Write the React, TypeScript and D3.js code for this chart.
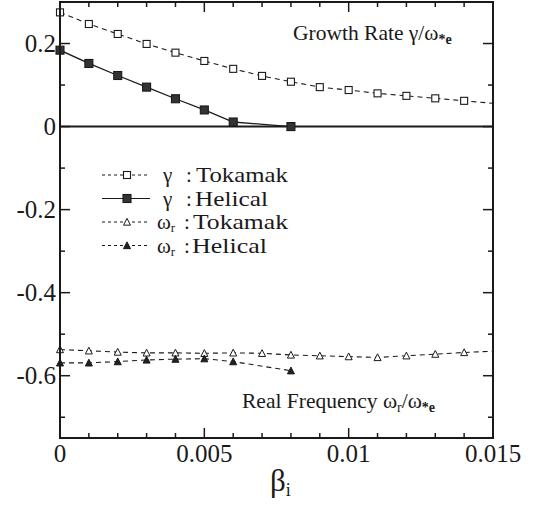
import React from "react";
import * as d3 from "d3";

const W = 534;
const H = 506;

const betaFull = [0, 0.001, 0.002, 0.003, 0.004, 0.005, 0.006, 0.007, 0.008, 0.009, 0.01, 0.011, 0.012, 0.013, 0.014, 0.015];
const gammaTokamak = [0.275, 0.247, 0.223, 0.199, 0.178, 0.158, 0.139, 0.122, 0.108, 0.095, 0.088, 0.08, 0.074, 0.068, 0.062, 0.056];
const omegaTokamak = [-0.537, -0.54, -0.543, -0.545, -0.545, -0.546, -0.545, -0.546, -0.55, -0.552, -0.554, -0.556, -0.552, -0.548, -0.544, -0.541];

const betaHelical = [0, 0.001, 0.002, 0.003, 0.004, 0.005, 0.006, 0.008];
const gammaHelical = [0.184, 0.152, 0.123, 0.095, 0.067, 0.04, 0.011, 0.0];
const omegaHelical = [-0.569, -0.569, -0.566, -0.562, -0.56, -0.559, -0.566, -0.588];

const xMajor = [0, 0.005, 0.01, 0.015];
const xMajorLabels = ["0", "0.005", "0.01", "0.015"];
const yMajor = [0.2, 0, -0.2, -0.4, -0.6];
const yMajorLabels = ["0.2", "0", "-0.2", "-0.4", "-0.6"];
const xMinor = d3.range(0, 16).map((i) => i * 0.001);
const yMinor = [0.3, 0.1, -0.1, -0.3, -0.5, -0.7];

const legendSymbols = ["γ", "γ", "ω", "ω"];
const legendSubs = ["", "", "r", "r"];
const legendLabels = ["Tokamak", "Helical", "Tokamak", "Helical"];

const FONT = "'Liberation Serif', 'Times New Roman', Times, serif";
const INK = "#1a1a1a";

export default function App() {
  const x = d3.scaleLinear().domain([0, 0.015]).range([60, 493]);
  const y = d3.scaleLinear().domain([-0.75, 0.3]).range([438, 2]);
  const [x0, x1] = x.range();
  const [y0, y1] = y.range();

  const line = d3
    .line<[number, number]>()
    .x((d) => x(d[0]))
    .y((d) => y(d[1]));

  const zip = (a: number[], b: number[]) => a.map((v, i) => [v, b[i]] as [number, number]);
  const gT = zip(betaFull, gammaTokamak);
  const oT = zip(betaFull, omegaTokamak);
  const gH = zip(betaHelical, gammaHelical);
  const oH = zip(betaHelical, omegaHelical);

  const sq = (cx: number, cy: number, filled: boolean, s = 7, key?: any) => (
    <rect key={key} x={cx - s / 2} y={cy - s / 2} width={s} height={s}
      fill={filled ? "#333" : "#fff"} stroke={INK} strokeWidth={1.1} />
  );
  const tri = (cx: number, cy: number, filled: boolean, s = 7, key?: any) => {
    const h = s * 0.9;
    const p = `${cx},${cy - h / 2 - 0.5} ${cx - s / 2},${cy + h / 2} ${cx + s / 2},${cy + h / 2}`;
    return <polygon key={key} points={p} fill={filled ? "#222" : "#fff"} stroke={INK} strokeWidth={1} />;
  };

  const dash = "5,4";
  const legStyle = [
    { y: 175, marker: "sq", filled: false, dashed: true, symX: 163, colonX: 186, labX: 196, len: 92 },
    { y: 198.5, marker: "sq", filled: true, dashed: false, symX: 163, colonX: 186, labX: 195, len: 73 },
    { y: 222, marker: "tri", filled: false, dashed: true, symX: 157, colonX: 184, labX: 193, len: 95 },
    { y: 245.5, marker: "tri", filled: true, dashed: true, symX: 157, colonX: 184, labX: 192, len: 75 },
  ];

  const txt = { fontFamily: FONT } as React.CSSProperties;

  return (
    <svg width={W} height={H} style={{ position: "absolute", left: 0, top: 0, background: "#fff", fontFamily: FONT }}>
      <rect x={0} y={0} width={W} height={H} fill="#fff" />
      <defs>
        <clipPath id="plot">
          <rect x={x0} y={y1} width={x1 - x0} height={y0 - y1} />
        </clipPath>
      </defs>

      {/* zero line */}
      <line x1={x0} x2={x1} y1={y(0)} y2={y(0)} stroke={INK} strokeWidth={2} />

      {/* series lines */}
      <g clipPath="url(#plot)" fill="none" stroke={INK}>
        <path d={line(gT) || ""} strokeWidth={1.1} strokeDasharray={dash} />
        <path d={line(gH) || ""} strokeWidth={1.3} />
        <path d={line(oT) || ""} strokeWidth={1.1} strokeDasharray={dash} />
        <path d={line(oH) || ""} strokeWidth={1.1} strokeDasharray={dash} />
      </g>

      {/* markers */}
      <g>
        {gT.filter((d) => d[0] < 0.015).map((d, i) => sq(x(d[0]), y(d[1]), false, 7, "gt" + i))}
        {gH.map((d, i) => sq(x(d[0]), y(d[1]), true, 8, "gh" + i))}
        {oT.filter((d) => d[0] < 0.015).map((d, i) => tri(x(d[0]), y(d[1]), false, 7, "ot" + i))}
        {oH.map((d, i) => tri(x(d[0]), y(d[1]), true, 7, "oh" + i))}
      </g>

      {/* frame */}
      <rect x={x0} y={y1} width={x1 - x0} height={y0 - y1} fill="none" stroke={INK} strokeWidth={2} />

      {/* ticks */}
      <g stroke={INK} strokeWidth={1.5}>
        {xMinor.map((v, i) => {
          const major = xMajor.some((m) => Math.abs(m - v) < 1e-9);
          const L = major ? 10 : 5;
          return (
            <g key={"xt" + i}>
              <line x1={x(v)} x2={x(v)} y1={y0} y2={y0 - L} />
              <line x1={x(v)} x2={x(v)} y1={y1} y2={y1 + L} />
            </g>
          );
        })}
        {yMajor.map((v, i) => (
          <g key={"ytM" + i}>
            <line x1={x0} x2={x0 + 10} y1={y(v)} y2={y(v)} />
            <line x1={x1} x2={x1 - 10} y1={y(v)} y2={y(v)} />
          </g>
        ))}
        {yMinor.map((v, i) => (
          <g key={"ytm" + i}>
            <line x1={x0} x2={x0 + 5} y1={y(v)} y2={y(v)} />
            <line x1={x1} x2={x1 - 5} y1={y(v)} y2={y(v)} />
          </g>
        ))}
      </g>

      {/* tick labels */}
      <g fill={INK}>
        {yMajor.map((v, i) => (
          <text key={"yl" + i} x={56} y={y(v)} dy="0.34em" textAnchor="end" fontSize={25} style={txt}>{yMajorLabels[i]}</text>
        ))}
        {xMajor.map((v, i) => (
          <text key={"xl" + i} x={x(v)} y={462} textAnchor="middle" fontSize={25} style={txt}>{xMajorLabels[i]}</text>
        ))}
      </g>

      {/* x title */}
      <text x={270} y={491} fontSize={31} fill={INK} style={txt}>
        β<tspan fontSize={18} dy={5}>i</tspan>
      </text>

      {/* annotations */}
      <text x={293} y={40} fontSize={21.5} fill={INK} style={txt}>
        Growth Rate γ/ω<tspan fontSize={14} dy={4} fontWeight="bold">*e</tspan>
      </text>
      <text x={242} y={408} fontSize={21.5} fill={INK} style={txt}>
        Real Frequency ω<tspan fontSize={14} dy={4}>r</tspan><tspan dy={-4}>/ω</tspan><tspan fontSize={14} dy={4} fontWeight="bold">*e</tspan>
      </text>

      {/* legend */}
      {legStyle.map((r, i) => (
        <g key={"leg" + i}>
          <line x1={102} x2={150} y1={r.y} y2={r.y} stroke={INK} strokeWidth={1.1}
            strokeDasharray={r.dashed ? "3,3" : undefined} />
          {r.marker === "sq" ? sq(127, r.y, r.filled, r.filled ? 8 : 7) : tri(127, r.y, r.filled, 7)}
          <text y={r.y + 7} fontSize={21} fill={INK} style={txt}>
            <tspan x={r.symX}>{legendSymbols[i]}</tspan>
            {legendSubs[i] ? <tspan fontSize={13} dy={3}>{legendSubs[i]}</tspan> : null}
          </text>
          <text x={r.colonX} y={r.y + 7} fontSize={21} fill={INK} style={txt}>:</text>
          <text x={r.labX} y={r.y + 7} fontSize={21} fill={INK} style={txt}
            textLength={r.len} lengthAdjust="spacingAndGlyphs">{legendLabels[i]}</text>
        </g>
      ))}
    </svg>
  );
}
